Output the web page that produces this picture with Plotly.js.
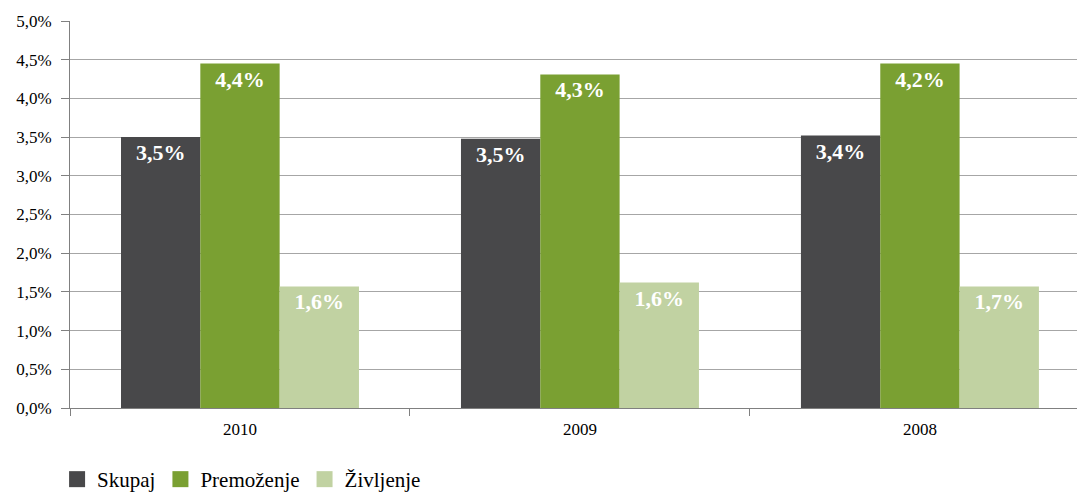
<!DOCTYPE html>
<html>
<head>
<meta charset="utf-8">
<script src="https://cdn.plot.ly/plotly-3.0.1.min.js"></script>
<style>html,body{margin:0;padding:0;background:#fff;}</style>
</head>
<body>
<div id="chart" style="width:1077px;height:500px;"></div>
<script>
const categories = ["2010", "2009", "2008"];
const seriesNames = ["Skupaj", "Premoženje", "Življenje"];
const skupaj = [3.50, 3.48, 3.52];
const premozenje = [4.45, 4.31, 4.45];
const zivljenje = [1.57, 1.62, 1.57];
const skupajLabels = ["3,5%", "3,5%", "3,4%"];
const premozenjeLabels = ["4,4%", "4,3%", "4,2%"];
const zivljenjeLabels = ["1,6%", "1,6%", "1,7%"];
const colors = ["#48484a", "#7aa032", "#c1d2a2"];

const values = [skupaj, premozenje, zivljenje];
const labels = [skupajLabels, premozenjeLabels, zivljenjeLabels];
const SERIF = "Liberation Serif";

const barTraces = seriesNames.map((name, i) => ({
  type: "bar",
  name: name,
  x: categories,
  y: values[i],
  text: labels[i],
  textposition: "inside",
  insidetextanchor: "end",
  textangle: 0,
  textfont: {family: SERIF, size: 22, color: "#ffffff", weight: "bold"},
  marker: {color: colors[i], line: {width: 0}},
  showlegend: false,
  hoverinfo: "none"
}));

const legendTraces = seriesNames.map((name, i) => ({
  type: "scatter",
  mode: "markers",
  name: name,
  x: [null],
  y: [null],
  marker: {symbol: "square", size: 18, color: colors[i], line: {width: 0}},
  showlegend: true,
  hoverinfo: "none"
}));

const layout = {
  width: 1077,
  height: 500,
  margin: {l: 70, r: 0, t: 21, b: 92},
  paper_bgcolor: "#ffffff",
  plot_bgcolor: "#ffffff",
  barmode: "group",
  bargap: 0.3,
  bargroupgap: 0,
  font: {family: SERIF, color: "#000000", size: 17},
  xaxis: {
    type: "category",
    range: [-0.5, 2.462],
    tickson: "boundaries",
    ticks: "outside",
    ticklen: 7,
    tickcolor: "#808080",
    showline: true,
    linecolor: "#808080",
    linewidth: 1,
    showgrid: false,
    ticklabelstandoff: 6,
    tickfont: {size: 17, family: SERIF, color: "#000"},
    fixedrange: true
  },
  yaxis: {
    range: [0, 5],
    dtick: 0.5,
    tickformat: ".1f",
    ticksuffix: "%",
    ticks: "outside",
    ticklen: 8,
    tickcolor: "#808080",
    showline: true,
    linecolor: "#808080",
    linewidth: 1,
    showgrid: true,
    gridcolor: "#a6a6a6",
    gridwidth: 1,
    zeroline: false,
    ticklabelstandoff: 6,
    tickfont: {size: 17, family: SERIF, color: "#000"},
    fixedrange: true
  },
  separators: ",.",
  showlegend: true,
  legend: {
    orientation: "h",
    xref: "container",
    yref: "container",
    x: 0.053,
    xanchor: "left",
    y: 0.0,
    yanchor: "bottom",
    font: {size: 21, family: SERIF, color: "#000"},
    itemwidth: 30,
    itemsizing: "trace",
    traceorder: "normal"
  }
};

Plotly.newPlot("chart", barTraces.concat(legendTraces), layout, {displayModeBar: false, staticPlot: true});
</script>
</body>
</html>
